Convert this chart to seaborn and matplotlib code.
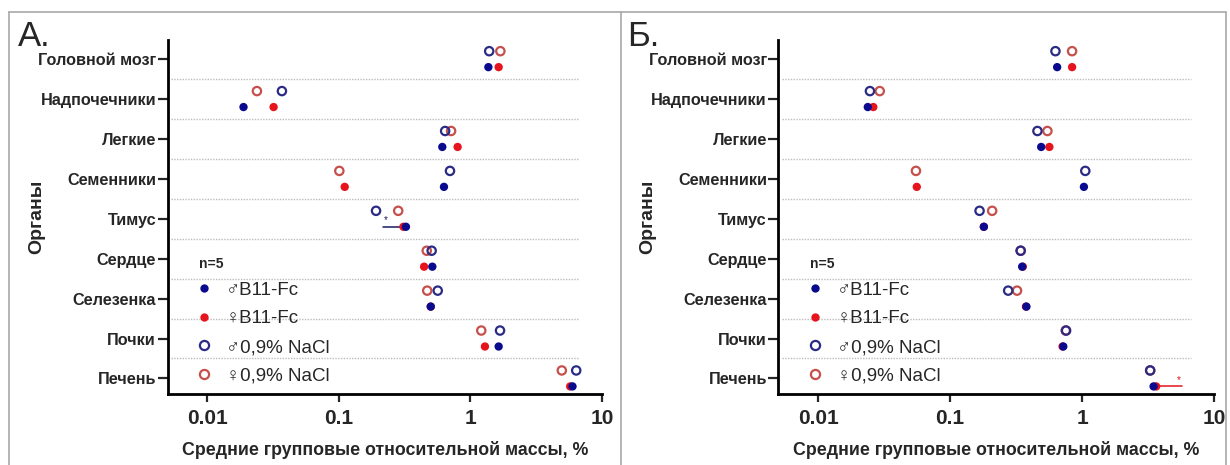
import numpy as np
import pandas as pd
import seaborn as sns
import matplotlib.pyplot as plt
from matplotlib.lines import Line2D
from matplotlib.ticker import FixedLocator, FixedFormatter, NullLocator

# ---- data: mean relative organ mass, % ----
organs = ["Головной мозг", "Надпочечники", "Легкие", "Семенники", "Тимус",
          "Сердце", "Селезенка", "Почки", "Печень"]

# panel А
a_male_b11 = [1.37, 0.0189, 0.612, 0.63, 0.324, 0.514, 0.50, 1.64, 5.97]
a_female_b11 = [1.64, 0.032, 0.80, 0.111, 0.31, 0.445, 0.50, 1.29, 5.73]
a_male_nacl = [1.39, 0.037, 0.643, 0.70, 0.192, 0.508, 0.565, 1.68, 6.37]
a_female_nacl = [1.69, 0.0239, 0.714, 0.101, 0.283, 0.466, 0.47, 1.21, 4.95]

# panel Б
b_male_b11 = [0.646, 0.0238, 0.489, 1.03, 0.18, 0.351, 0.378, 0.719, 3.47]
b_female_b11 = [0.838, 0.0262, 0.564, 0.0559, 0.18, 0.355, 0.375, 0.71, 3.63]
b_male_nacl = [0.627, 0.0247, 0.458, 1.055, 0.167, 0.342, 0.275, 0.755, 3.27]
b_female_nacl = [0.838, 0.0293, 0.545, 0.0551, 0.208, 0.342, 0.321, 0.75, 3.27]

# significant differences: (organ, low, high, asterisk at low/high end)
a_sig = ("Тимус", 0.216, 0.324, "low")
b_sig = ("Печень", 3.63, 5.68, "high")

x_ticks = [0.01, 0.1, 1, 10]
x_tick_labels = ["0.01", "0.1", "1", "10"]
x_limits = (0.005, 10)

treatments = ["0,9% NaCl", "B11-Fc"]
styles = {
    ("♂", "B11-Fc"): dict(color="#0a0a8e", filled=True),
    ("♀", "B11-Fc"): dict(color="#e6141c", filled=True),
    ("♂", "0,9% NaCl"): dict(color="#2b2b86", filled=False),
    ("♀", "0,9% NaCl"): dict(color="#c6504c", filled=False),
}
draw_order = [("♀", "0,9% NaCl"), ("♂", "0,9% NaCl"), ("♀", "B11-Fc"), ("♂", "B11-Fc")]
legend_order = [("♂", "B11-Fc"), ("♀", "B11-Fc"), ("♂", "0,9% NaCl"), ("♀", "0,9% NaCl")]


def panel_frame(m_b11, f_b11, m_nacl, f_nacl):
    rows = []
    for sex, treat, vals in [("♂", "B11-Fc", m_b11), ("♀", "B11-Fc", f_b11),
                             ("♂", "0,9% NaCl", m_nacl), ("♀", "0,9% NaCl", f_nacl)]:
        for organ, v in zip(organs, vals):
            rows.append(dict(organ=organ, sex=sex, treatment=treat, value=v))
    return pd.DataFrame(rows)


df_a = panel_frame(a_male_b11, a_female_b11, a_male_nacl, a_female_nacl)
df_b = panel_frame(b_male_b11, b_female_b11, b_male_nacl, b_female_nacl)

sns.set_style("ticks")
plt.rcParams["font.family"] = ["Liberation Sans", "DejaVu Sans"]

W, H = 1230, 465
fig = plt.figure(figsize=(W / 100, H / 100), dpi=100)
ax_a = fig.add_axes([167.5 / W, 71 / H, 434.5 / W, 354 / H])
ax_b = fig.add_axes([778.3 / W, 71 / H, 436 / W, 354 / H])

DODGE = 0.2  # stripplot dodge offset for two hue levels


def draw_panel(ax, df, sig):
    for key in draw_order:
        sex, treat = key
        st = styles[key]
        sub = df[(df.sex == sex) & (df.treatment == treat)]
        n0 = len(ax.collections)
        sns.stripplot(data=sub, x="value", y="organ", hue="treatment",
                      hue_order=treatments, order=organs,
                      palette={t: st["color"] for t in treatments},
                      dodge=True, jitter=False, size=6.0, linewidth=0,
                      legend=False, orient="h", ax=ax)
        for coll in ax.collections[n0:]:
            if st["filled"]:
                coll.set_edgecolor("none")
            else:
                coll.set_facecolor("none")
                coll.set_edgecolor(st["color"])
                coll.set_linewidth(1.6)
            coll.set_zorder(3)

    ax.set_xscale("log")
    ax.set_xlim(*x_limits)
    ax.set_ylim(len(organs) - 1 + 0.39, -0.48)
    ax.xaxis.set_major_locator(FixedLocator(x_ticks))
    ax.xaxis.set_major_formatter(FixedFormatter(x_tick_labels))
    ax.xaxis.set_minor_locator(NullLocator())

    # dotted separators between organ rows
    ax.hlines([i + 0.5 for i in range(len(organs) - 1)], 0.0053, 6.7,
              colors="#bcbcbc", linestyles=(0, (1, 1)), linewidth=1.0, zorder=1)

    # significance bar with asterisk on the B11-Fc row
    organ, lo, hi, end = sig
    y = organs.index(organ) + DODGE
    col = "#1a1a60" if end == "low" else "#e6141c"
    ax.plot([lo, hi], [y, y], color=col, lw=1.1, zorder=2)
    ax.text(lo * 1.06 if end == "low" else hi * 0.95, y - 0.04, "*",
            ha="center", va="bottom", fontsize=7, color=col)

    sns.despine(ax=ax)
    for s in ("left", "bottom"):
        ax.spines[s].set_linewidth(2.0)
        ax.spines[s].set_color("black")
    ax.tick_params(axis="y", length=7.2, width=1.6, pad=1, labelsize=11.7)
    ax.tick_params(axis="x", length=6, width=1.6, pad=5, labelsize=15)
    for lab in ax.get_yticklabels() + ax.get_xticklabels():
        lab.set_fontweight("bold")
    ax.set_ylabel("")
    ax.set_xlabel("Средние групповые относительной массы, %",
                  fontsize=12.8, fontweight="bold", labelpad=9)

    # group size note above the legend
    ax.text(0.073, 0.367, "n=5", transform=ax.transAxes, fontsize=10,
            fontweight="bold", ha="left", va="center", zorder=5)

    handles = []
    labels = []
    for key in legend_order:
        st = styles[key]
        handles.append(Line2D([], [], marker="o", linestyle="",
                              markersize=6.6 if not st["filled"] else 6.0,
                              markerfacecolor=st["color"] if st["filled"] else "none",
                              markeredgecolor=st["color"] if not st["filled"] else "none",
                              markeredgewidth=1.6))
        labels.append(key[0] + key[1])
    leg = ax.legend(handles, labels, loc="upper left",
                    bbox_to_anchor=(0.071, 0.318), frameon=False,
                    prop={"family": ["Liberation Sans", "Noto Sans CJK JP", "DejaVu Sans"],
                          "size": 13.5},
                    borderpad=0, borderaxespad=0,
                    handlelength=0.6, handletextpad=0.86, labelspacing=0.62)
    leg.set_zorder(5)


draw_panel(ax_a, df_a, a_sig)
draw_panel(ax_b, df_b, b_sig)

# panel letters and y titles
fig.text(18 / W, 1 - 46 / H, "А.", fontsize=25, va="baseline", ha="left")
fig.text(627 / W, 1 - 46 / H, "Б.", fontsize=25, va="baseline", ha="left")
fig.text(36.7 / W, 1 - 217 / H, "Органы", rotation=90, fontsize=14,
         fontweight="bold", ha="center", va="center")
fig.text(648 / W, 1 - 217 / H, "Органы", rotation=90, fontsize=14,
         fontweight="bold", ha="center", va="center")

# panel frames
frame_kw = dict(color="#a8a8a8", lw=1.2, transform=fig.transFigure)
top = 1 - 12.3 / H
fig.add_artist(Line2D([9 / W, 1226 / W], [top, top], **frame_kw))
for xpx in (9, 620.7, 1226):
    fig.add_artist(Line2D([xpx / W, xpx / W], [0, top], **frame_kw))

fig.savefig("out.png", dpi=100)
